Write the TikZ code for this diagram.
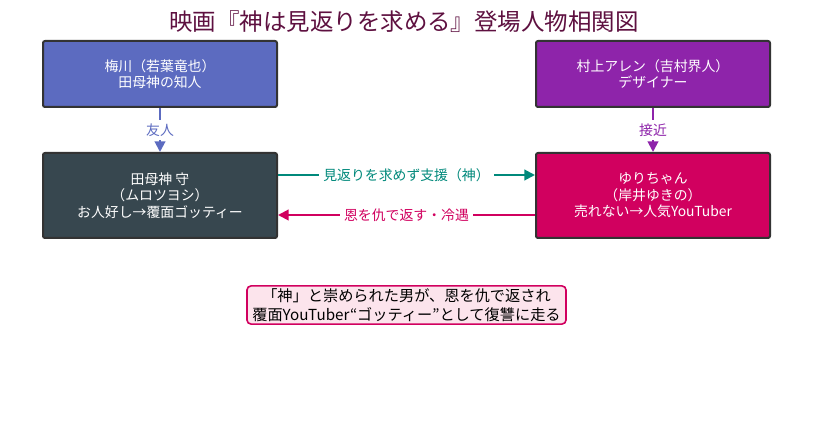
\documentclass[tikz,border=0pt]{standalone}
\usepackage{fontspec}
\setmainfont{Noto Sans CJK JP}
\usetikzlibrary{arrows.meta}
\definecolor{cTitle}{HTML}{5E1040}
\definecolor{cFriend}{HTML}{5C6BC0}
\definecolor{cDesigner}{HTML}{8E24AA}
\definecolor{cHero}{HTML}{37474F}
\definecolor{cYuri}{HTML}{D1005F}
\definecolor{cTeal}{HTML}{00897B}
\definecolor{cMag}{HTML}{D1005F}
\definecolor{cNoteFill}{HTML}{FCE4EC}
\definecolor{cBorder}{HTML}{333333}
\tikzset{
  person/.style={draw=cBorder, line width=1.5pt, rounded corners=1.5pt, minimum width=175.5pt, text=white, align=center, font=\fontsize{10.4}{12.3}\selectfont, inner sep=0pt},
  rel/.style={line width=1.5pt, -{Triangle[length=8pt,width=8pt]}},
  rellabel/.style={fill=white, font=\fontsize{10.4}{12}\selectfont, inner sep=3pt},
}
\begin{document}
\begin{tikzpicture}[x=0.75pt,y=-0.75pt]
\useasboundingbox (0,0) rectangle (813,434);
\node (title) at (404,22) {\textcolor{cTitle}{\fontsize{17.6}{20}\selectfont 映画『神は見返りを求める』登場人物相関図}};
\node[person, fill=cFriend, minimum height=49.5pt] (ume) at (160,74) {梅川（若葉竜也）\\田母神の知人};
\node[person, fill=cDesigner, minimum height=49.5pt] (mura) at (653,74) {村上アレン（吉村界人）\\デザイナー};
\node[person, fill=cHero, minimum height=63.75pt] (tamo) at (160,195.5) {田母神 守\\（ムロツヨシ）\\お人好し→覆面ゴッティー};
\node[person, fill=cYuri, minimum height=63.75pt] (yuri) at (653,195.5) {ゆりちゃん\\（岸井ゆきの）\\売れない→人気YouTuber};
\draw[rel, cFriend] (ume) -- node[rellabel, text=cFriend] {友人} (tamo);
\draw[rel, cDesigner] (mura) -- node[rellabel, text=cDesigner] {接近} (yuri);
\coordinate (tR1) at (tamo.east |- 0,175);
\coordinate (yL1) at (yuri.west |- 0,175);
\coordinate (tR2) at (tamo.east |- 0,215);
\coordinate (yL2) at (yuri.west |- 0,215);
\draw[rel, cTeal] (tR1) -- node[rellabel, text=cTeal] {見返りを求めず支援（神）} (yL1);
\draw[rel, cMag] (yL2) -- node[rellabel, text=cMag] {恩を仇で返す・冷遇} (tR2);
\node[draw=cMag, fill=cNoteFill, line width=1.2pt, rounded corners=3pt, align=center, font=\fontsize{11.4}{14}\selectfont, inner xsep=4pt, inner ysep=2pt] (note) at (406.5,305) {「神」と崇められた男が、恩を仇で返され\\覆面YouTuber“ゴッティー”として復讐に走る};
\end{tikzpicture}
\end{document}
